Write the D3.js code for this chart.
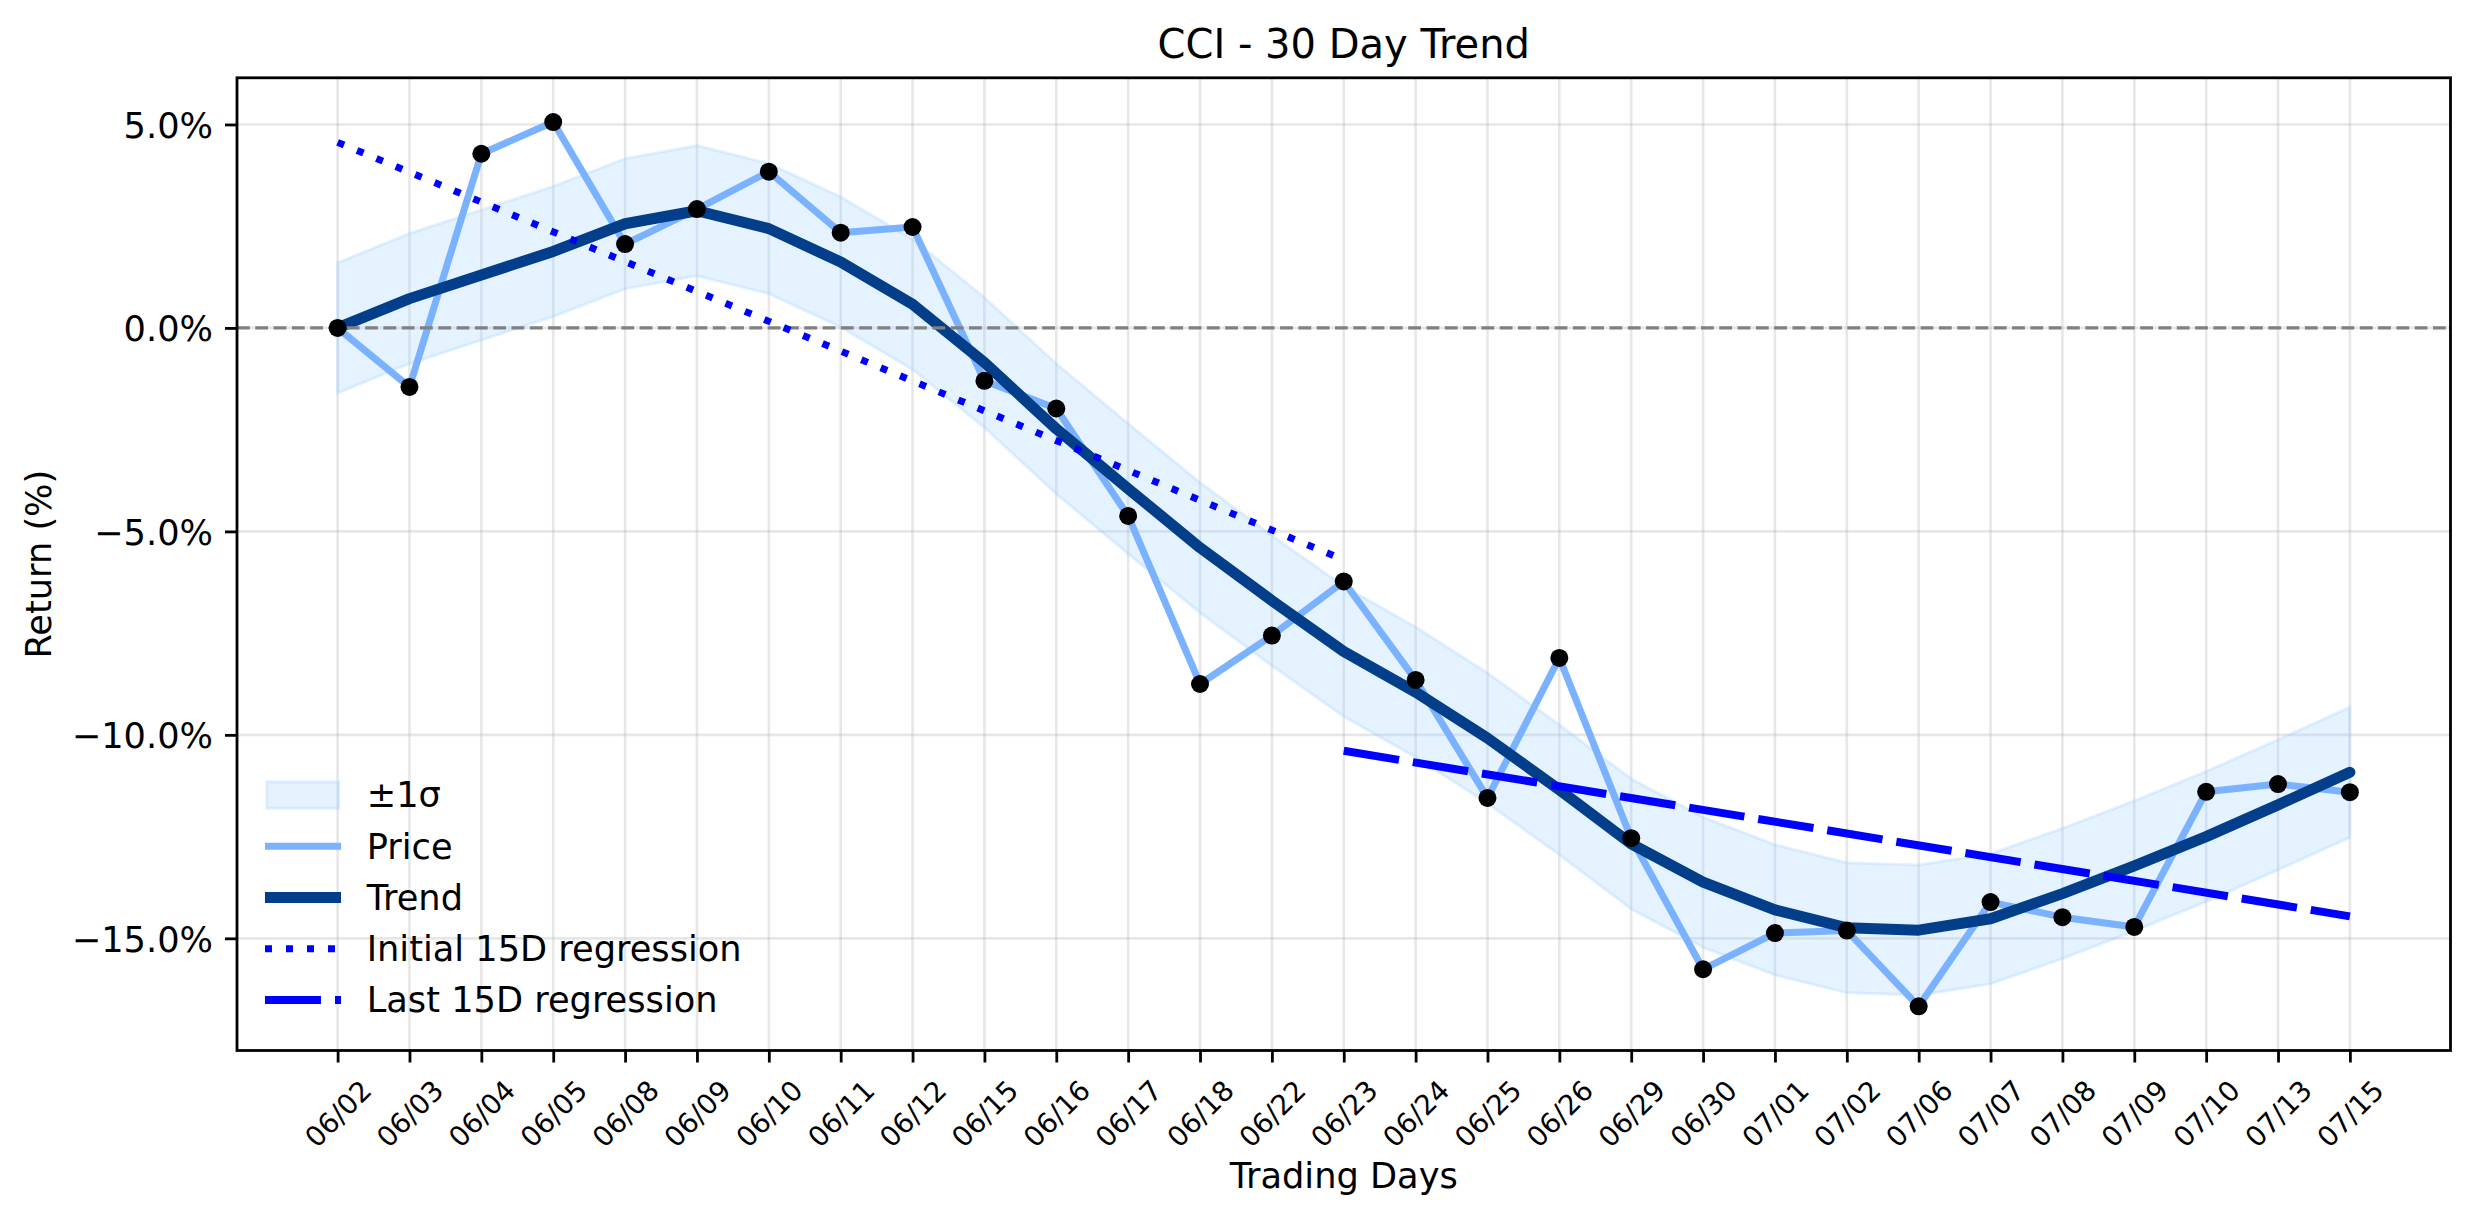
<!DOCTYPE html>
<html><head><meta charset="utf-8">
<script src="https://cdn.jsdelivr.net/npm/d3@7"></script>
<style>
body{margin:0;background:#fff}
text{font-family:"DejaVu Sans",sans-serif;fill:#000}
</style>
</head><body>
<svg id="chart" width="2475" height="1224"></svg>
<script>
// ---------- data ----------
const dates = ["06/02","06/03","06/04","06/05","06/08","06/09","06/10","06/11","06/12","06/15",
  "06/16","06/17","06/18","06/22","06/23","06/24","06/25","06/26","06/29","06/30",
  "07/01","07/02","07/06","07/07","07/08","07/09","07/10","07/13","07/15"];
const price = [0.00,-1.45,4.28,5.06,2.06,2.92,3.84,2.34,2.48,-1.30,
  -1.98,-4.62,-8.75,-7.56,-6.23,-8.65,-11.55,-8.11,-12.54,-15.76,
  -14.87,-14.81,-16.67,-14.11,-14.48,-14.72,-11.40,-11.21,-11.41];
const trend = [0.00,0.72,1.30,1.88,2.56,2.88,2.44,1.62,0.58,-0.85,
  -2.48,-3.95,-5.40,-6.70,-7.95,-8.95,-10.08,-11.35,-12.68,-13.62,
  -14.30,-14.74,-14.80,-14.52,-13.90,-13.22,-12.50,-11.72,-10.92];
const bandUpper = [1.60,2.32,2.90,3.48,4.16,4.48,4.04,3.22,2.18,0.75,
  -0.88,-2.35,-3.80,-5.10,-6.35,-7.35,-8.48,-9.75,-11.08,-12.02,
  -12.70,-13.14,-13.20,-12.92,-12.30,-11.62,-10.90,-10.12,-9.32];
const bandLower = [-1.60,-0.88,-0.30,0.28,0.96,1.28,0.84,0.02,-1.02,-2.45,
  -4.08,-5.55,-7.00,-8.30,-9.55,-10.55,-11.68,-12.95,-14.28,-15.22,
  -15.90,-16.34,-16.40,-16.12,-15.50,-14.82,-14.10,-13.32,-12.52];
const initialRegX = [0, 14];
const initialRegY = [4.56, -5.70];
const lastRegX = [14, 28];
const lastRegY = [-10.39, -14.46];
const yTicks = [5, 0, -5, -10, -15];
const legendLabels = ["±1σ", "Price", "Trend", "Initial 15D regression", "Last 15D regression"];
const titleText = "CCI - 30 Day Trend";
const xLabelText = "Trading Days";
const yLabelText = "Return (%)";

// ---------- layout & style ----------
const W = 2475, H = 1224;
const plot = {left: 237, right: 2450.5, top: 77.8, bottom: 1050.5};
const C = {
  band: "#99ccff", price: "#7ab2ff", trend: "#023e8a", reg: "#0000ff",
  grid: "#b0b0b0", zero: "#808080"
};

const svg = d3.select("#chart");
const n = dates.length;
const idx = d3.range(n);
const xPad = (n - 1) * 0.05;
const x = d3.scaleLinear().domain([-xPad, n - 1 + xPad]).range([plot.left, plot.right]);
const allY = price.concat(bandUpper, bandLower);
const yMin = d3.min(allY), yMax = d3.max(allY), yPad = (yMax - yMin) * 0.05;
const y = d3.scaleLinear().domain([yMin - yPad, yMax + yPad]).range([plot.bottom, plot.top]);

// clip
svg.append("defs").append("clipPath").attr("id", "clip")
  .append("rect").attr("x", plot.left).attr("y", plot.top)
  .attr("width", plot.right - plot.left).attr("height", plot.bottom - plot.top);

// grid
const grid = svg.append("g");
grid.selectAll("line.vx").data(idx).join("line")
  .attr("x1", d => x(d)).attr("x2", d => x(d))
  .attr("y1", plot.top).attr("y2", plot.bottom)
  .attr("stroke", C.grid).attr("stroke-opacity", 0.3).attr("stroke-width", 2.6);
grid.selectAll("line.hy").data(yTicks).join("line")
  .attr("x1", plot.left).attr("x2", plot.right)
  .attr("y1", d => y(d)).attr("y2", d => y(d))
  .attr("stroke", C.grid).attr("stroke-opacity", 0.3).attr("stroke-width", 2.6);

const g = svg.append("g").attr("clip-path", "url(#clip)");

// band
const area = d3.area().x(d => x(d)).y0(d => y(bandLower[d])).y1(d => y(bandUpper[d]));
g.append("path").datum(idx).attr("d", area)
  .attr("fill", C.band).attr("fill-opacity", 0.25)
  .attr("stroke", C.band).attr("stroke-opacity", 0.25).attr("stroke-width", 3);

// price line
const lineOf = arr => d3.line().x(d => x(d)).y(d => y(arr[d]));
g.append("path").datum(idx).attr("d", lineOf(price))
  .attr("fill", "none").attr("stroke", C.price).attr("stroke-width", 7)
  .attr("stroke-linejoin", "round").attr("stroke-linecap", "round");

// trend line
g.append("path").datum(idx).attr("d", lineOf(trend))
  .attr("fill", "none").attr("stroke", C.trend).attr("stroke-width", 11)
  .attr("stroke-linejoin", "round").attr("stroke-linecap", "round");

// zero line
g.append("line").attr("x1", plot.left).attr("x2", plot.right)
  .attr("y1", y(0)).attr("y2", y(0))
  .attr("stroke", C.zero).attr("stroke-width", 3.4).attr("stroke-dasharray", "12.8,5.5");

// regressions
const regLine = (xs, ys) => d3.line().x((d, i) => x(xs[i])).y((d, i) => y(ys[i]))(xs);
g.append("path").attr("d", regLine(initialRegX, initialRegY))
  .attr("fill", "none").attr("stroke", C.reg).attr("stroke-width", 7)
  .attr("stroke-dasharray", "7,14");
g.append("path").attr("d", regLine(lastRegX, lastRegY))
  .attr("fill", "none").attr("stroke", C.reg).attr("stroke-width", 8)
  .attr("stroke-dasharray", "56,14");

// markers
g.selectAll("circle.pt").data(idx).join("circle")
  .attr("cx", d => x(d)).attr("cy", d => y(price[d])).attr("r", 9).attr("fill", "#000");

// axes
const fmt = d => (d < 0 ? "\u2212" : "") + Math.abs(d).toFixed(1) + "%";
const yAxis = svg.append("g").attr("transform", `translate(${plot.left},0)`)
  .call(d3.axisLeft(y).tickValues(yTicks).tickFormat(fmt).tickSize(12).tickPadding(12).tickSizeOuter(0));
yAxis.select(".domain").remove();
yAxis.selectAll(".tick line").attr("stroke", "#000").attr("stroke-width", 2.8);
yAxis.selectAll(".tick text").attr("font-size", 35.2).attr("dy", "0.36em")
  .attr("font-family", "DejaVu Sans, sans-serif");

const xAxis = svg.append("g").attr("transform", `translate(0,${plot.bottom})`)
  .call(d3.axisBottom(x).tickValues(idx).tickFormat(i => dates[i]).tickSize(12).tickSizeOuter(0));
xAxis.select(".domain").remove();
xAxis.selectAll(".tick line").attr("stroke", "#000").attr("stroke-width", 2.8);
xAxis.selectAll(".tick text")
  .attr("font-size", 27.8).attr("font-family", "DejaVu Sans, sans-serif")
  .attr("y", 0).attr("dy", "0.35em").attr("text-anchor", "middle")
  .attr("transform", "translate(0,63.3) rotate(-45)");

// frame
svg.append("rect").attr("x", plot.left).attr("y", plot.top)
  .attr("width", plot.right - plot.left).attr("height", plot.bottom - plot.top)
  .attr("fill", "none").attr("stroke", "#000").attr("stroke-width", 2.8);

// titles
svg.append("text").attr("x", (plot.left + plot.right) / 2).attr("y", 57.7)
  .attr("text-anchor", "middle").attr("font-size", 40).text(titleText);
svg.append("text").attr("x", (plot.left + plot.right) / 2).attr("y", 1188)
  .attr("text-anchor", "middle").attr("font-size", 35.2).text(xLabelText);
svg.append("text").attr("transform", `translate(51,${(plot.top + plot.bottom) / 2}) rotate(-90)`)
  .attr("text-anchor", "middle").attr("font-size", 35.2).text(yLabelText);

// legend
const leg = svg.append("g");
const lx0 = 265, lx1 = 341, ly0 = 795, lstep = 51.25, ltx = 366.7;
legendLabels.forEach((lab, i) => {
  const cy = ly0 + i * lstep;
  if (i === 0) {
    leg.append("rect").attr("x", lx0 + 1.7).attr("y", cy - 13.3).attr("width", 72.3).attr("height", 26.6)
      .attr("fill", C.band).attr("fill-opacity", 0.25)
      .attr("stroke", C.band).attr("stroke-opacity", 0.25).attr("stroke-width", 3);
  } else {
    const st = [null,
      {c: C.price, w: 7, da: null},
      {c: C.trend, w: 11, da: null},
      {c: C.reg, w: 7, da: "7,14"},
      {c: C.reg, w: 8, da: "56,14"}][i];
    const ln = leg.append("line").attr("x1", lx0).attr("x2", lx1).attr("y1", cy).attr("y2", cy)
      .attr("stroke", st.c).attr("stroke-width", st.w);
    if (st.da) ln.attr("stroke-dasharray", st.da);
  }
  leg.append("text").attr("x", ltx).attr("y", cy + 12.3).attr("font-size", 35.2).text(lab);
});
</script>
</body></html>
